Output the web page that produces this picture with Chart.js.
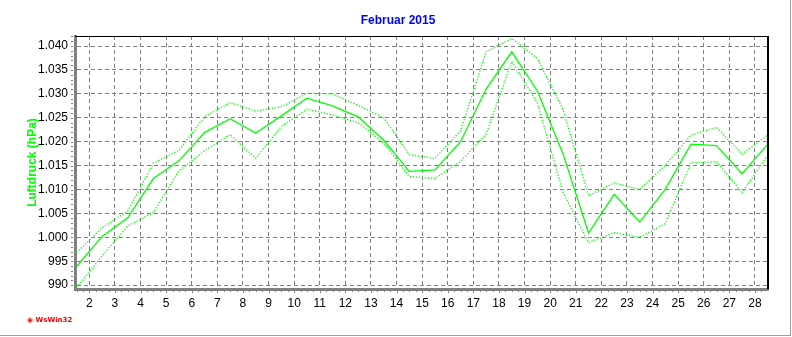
<!DOCTYPE html>
<html>
<head>
<meta charset="utf-8">
<script src="https://cdn.jsdelivr.net/npm/chart.js@4.4.1/dist/chart.umd.min.js"></script>
<style>
  body { margin: 0; background: #fff; }
  #wrap { position: relative; width: 792px; height: 337px; }
  #grafico { position: absolute; left: 0; top: 0; }
  .rand-r { position: absolute; left: 790px; top: 0; width: 1px; height: 336px; background: #a0a0a0; }
  .rand-b { position: absolute; left: 0; top: 335px; width: 791px; height: 1px; background: #a0a0a0; }
</style>
</head>
<body>
<div id="wrap">
  <canvas id="grafico" width="792" height="337"></canvas>
  <div class="rand-r"></div>
  <div class="rand-b"></div>
</div>
<script>
// Tage im Februar 2015 (Tageswerte jeweils zur Tagesmitte)
const tage = [1,2,3,4,5,6,7,8,9,10,11,12,13,14,15,16,17,18,19,20,21,22,23,24,25,26,27,28];

// Luftdruck in hPa
const mittel = [993.9, 1000.2, 1004.1, 1012.3, 1016.0, 1021.9, 1024.8, 1021.8, 1025.4, 1029.1, 1027.5, 1025.2, 1020.3, 1013.8,
  1014.1, 1020.0, 1031.0, 1038.8, 1030.6, 1017.5, 1000.9, 1009.0, 1003.2, 1010.1, 1019.5, 1019.2, 1013.3, 1019.5];
const maximum = [996.8, 1002.0, 1005.5, 1015.5, 1018.2, 1025.2, 1028.2, 1026.4, 1027.3, 1030.1, 1030.0, 1027.6, 1025.0, 1017.3,
  1016.5, 1022.3, 1038.8, 1041.6, 1037.4, 1026.8, 1008.7, 1011.4, 1010.0, 1015.1, 1021.4, 1023.0, 1017.4, 1021.4];
const minimum = [989.5, 996.1, 1002.4, 1005.2, 1013.9, 1018.1, 1021.5, 1016.5, 1023.2, 1026.8, 1025.6, 1024.0, 1019.7, 1012.7,
  1012.3, 1015.9, 1021.6, 1036.8, 1028.1, 1009.5, 998.9, 1001.0, 1000.0, 1002.9, 1015.6, 1015.8, 1009.4, 1017.2];

// Achsenbeschriftung
const xTicks = [2,3,4,5,6,7,8,9,10,11,12,13,14,15,16,17,18,19,20,21,22,23,24,25,26,27,28];
const yTicks = [990, 995, 1000, 1005, 1010, 1015, 1020, 1025, 1030, 1035, 1040];
const yTickLabels = ['990', '995', '1.000', '1.005', '1.010', '1.015', '1.020', '1.025', '1.030', '1.035', '1.040'];

const punkte = werte => werte.map((v, i) => ({ x: tage[i] + 0.5, y: v }));

const gruen = '#00ff00';
const grau = '#808080';

// Titel, Rahmen, kleine Striche und WsWin32-Logo
const extras = {
  id: 'extras',
  afterDraw(chart) {
    const ctx = chart.ctx;
    const a = chart.chartArea;
    const sx = chart.scales.x, sy = chart.scales.y;
    ctx.save();
    // kleine Striche unten (6 Stunden)
    ctx.strokeStyle = grau;
    ctx.lineWidth = 1;
    ctx.beginPath();
    for (let t = 1.5; t <= 28.5; t += 0.25) {
      const px = Math.round(sx.getPixelForValue(t)) + 0.5;
      if (px < a.left + 2 || px > a.right) continue;
      const lang = Number.isInteger(t) ? 4 : 3;
      ctx.moveTo(px, a.bottom + 1);
      ctx.lineTo(px, a.bottom + lang);
    }
    // kleine Striche links (1 hPa)
    for (let v = 990; v <= 1042; v++) {
      const py = Math.round(sy.getPixelForValue(v)) + 0.5;
      ctx.moveTo(a.left - 4, py);
      ctx.lineTo(a.left - 2, py);
    }
    ctx.stroke();
    // Rahmen oben und rechts
    ctx.strokeStyle = '#000';
    ctx.lineWidth = 1;
    ctx.beginPath();
    ctx.moveTo(a.left, a.top + 0.5);
    ctx.lineTo(a.right, a.top + 0.5);
    ctx.stroke();
    ctx.lineWidth = 2;
    ctx.beginPath();
    ctx.moveTo(a.right, a.top);
    ctx.lineTo(a.right, a.bottom);
    ctx.stroke();
    // Titel
    ctx.fillStyle = '#0000ff';
    ctx.font = 'bold 12px "Liberation Sans", Arial, sans-serif';
    ctx.textAlign = 'center';
    ctx.textBaseline = 'middle';
    ctx.fillText('Februar 2015', 398, 21);
    // Logo
    ctx.fillStyle = '#ff0000';
    ctx.font = 'bold 7px "DejaVu Sans", sans-serif';
    ctx.textAlign = 'left';
    ctx.fillText('◉ WsWin32', 27, 320);
    ctx.restore();
  }
};

const ctx = document.getElementById('grafico').getContext('2d');
new Chart(ctx, {
  type: 'line',
  data: {
    datasets: [
      { label: 'Maximum', data: punkte(maximum), borderColor: gruen, borderWidth: 1.3, borderDash: [1.3, 1.7], pointRadius: 0, tension: 0 },
      { label: 'Mittel', data: punkte(mittel), borderColor: gruen, borderWidth: 1.3, pointRadius: 0, tension: 0 },
      { label: 'Minimum', data: punkte(minimum), borderColor: gruen, borderWidth: 1.3, borderDash: [1.3, 1.7], pointRadius: 0, tension: 0 }
    ]
  },
  options: {
    responsive: false,
    animation: false,
    devicePixelRatio: 1,
    layout: { padding: { top: 36, right: 24, left: 0, bottom: 0 } },
    plugins: { legend: { display: false }, tooltip: { enabled: false }, title: { display: false } },
    scales: {
      x: {
        type: 'linear',
        min: 1.44,
        max: 28.51,
        afterBuildTicks: s => { s.ticks = xTicks.map(v => ({ value: v })); },
        afterFit: s => { s.height = 48; },
        grid: { color: grau, lineWidth: 1, drawTicks: false },
        border: { color: grau, width: 3, dash: [4, 3] },
        ticks: {
          padding: 7,
          color: '#000',
          font: { family: '"Liberation Sans", Arial, sans-serif', size: 12 },
          maxRotation: 0,
          autoSkip: false,
          callback: v => String(v)
        }
      },
      y: {
        min: 989.2,
        max: 1042.1,
        afterBuildTicks: s => { s.ticks = yTicks.map(v => ({ value: v })); },
        afterFit: s => { s.width = 75; },
        grid: { color: grau, lineWidth: 1, drawTicks: false },
        border: { color: grau, width: 3, dash: [4, 3] },
        ticks: {
          padding: 7,
          color: '#000',
          font: { family: '"Liberation Sans", Arial, sans-serif', size: 12 },
          autoSkip: false,
          callback: v => yTickLabels[yTicks.indexOf(v)]
        },
        title: {
          display: true,
          text: 'Luftdruck (hPa)',
          color: gruen,
          font: { family: '"Liberation Sans", Arial, sans-serif', size: 12, weight: 'bold' },
          padding: { top: 25, bottom: 0 }
        }
      }
    }
  },
  plugins: [extras]
});
</script>
</body>
</html>
